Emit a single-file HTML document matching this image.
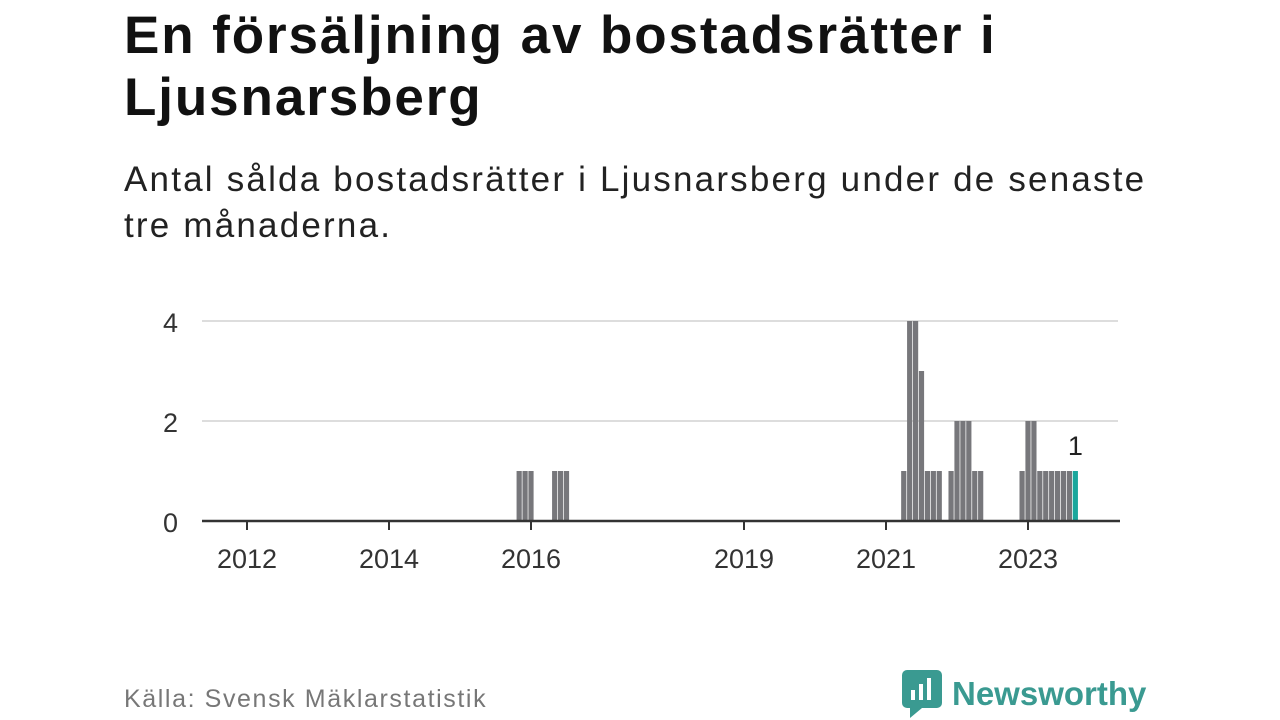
<!DOCTYPE html>
<html><head><meta charset="utf-8"><style>
body{margin:0;width:1280px;height:720px;background:#fff;font-family:"Liberation Sans","DejaVu Sans",sans-serif;overflow:hidden;position:relative}
h1{position:absolute;left:124px;top:5px;margin:0;font-size:53px;line-height:62px;font-weight:bold;color:#111;width:1150px;letter-spacing:1.9px}
.sub{position:absolute;left:124px;top:157px;font-size:35px;line-height:46px;color:#222;width:1150px;letter-spacing:2.2px}
.src{position:absolute;left:124px;top:685px;font-size:25px;color:#777;letter-spacing:1.6px}
.logo{position:absolute;left:902px;top:670px;display:flex;align-items:center;gap:10px;color:#3a9a91;font-size:33px;font-weight:bold}
</style></head><body>
<h1>En försäljning av bostadsrätter i<br>Ljusnarsberg</h1>
<div class="sub">Antal sålda bostadsrätter i Ljusnarsberg under de senaste<br>tre månaderna.</div>
<svg id="chart" width="1280" height="720" style="position:absolute;left:0;top:0"></svg>
<div class="src">Källa: Svensk Mäklarstatistik</div>
<div class="logo"><svg width="40" height="48" viewBox="0 0 40 48"><rect x="0" y="0" width="40" height="38" rx="5" fill="#3a9a91"/><polygon points="8,38 20,38 8,48" fill="#3a9a91"/><rect x="9" y="20" width="4" height="10" fill="#fff"/><rect x="17" y="14" width="4" height="16" fill="#fff"/><rect x="25" y="8" width="4" height="22" fill="#fff"/></svg><span>Newsworthy</span></div>
<script>
const months=["2015-11","2015-12","2016-01","2016-05","2016-06","2016-07","2021-04","2021-05","2021-06","2021-07","2021-08","2021-09","2021-10","2021-12","2022-01","2022-02","2022-03","2022-04","2022-05","2022-12","2023-01","2023-02","2023-03","2023-04","2023-05","2023-06","2023-07","2023-08","2023-09"];
const values=[1,1,1,1,1,1,1,4,4,3,1,1,1,1,2,2,2,1,1,1,2,2,1,1,1,1,1,1,1];
const yTicks=[0,2,4];
const xTickYears=[2012,2014,2016,2019,2021,2023];
const NS="http://www.w3.org/2000/svg";
const svg=document.getElementById('chart');
const x0=247,pitch=71/12,y0=521,unit=50;
function mIdx(s){const [y,m]=s.split('-').map(Number);return (y-2012)*12+(m-1);}
function xs(m){return x0+m*pitch;}
function ys(v){return y0-v*unit;}
function add(tag,attrs){const e=document.createElementNS(NS,tag);for(const k in attrs)e.setAttribute(k,attrs[k]);svg.appendChild(e);return e;}
yTicks.forEach(t=>{
 if(t>0){const g=add('line',{x1:202,x2:1118,y1:ys(t),y2:ys(t),stroke:'#ddd','stroke-width':2});
 
 }
 const l=add('text',{x:178,y:ys(t)+11,'text-anchor':'end','font-size':27,fill:'#333'});l.textContent=t;
 
 
});
const last=months.length-1;
months.forEach((m,i)=>{
 const c=xs(mIdx(m));
 const r=add('rect',{x:c-2.6,y:ys(values[i]),width:5.2,height:values[i]*unit,fill:i===last?'#1aa79c':'#77777b'});
 
 
});
const lb=add('text',{x:xs(mIdx(months[last])),y:ys(values[last])-16,'text-anchor':'middle','font-size':27,fill:'#222'});
lb.textContent=values[last];


const ax=add('line',{x1:202,x2:1120,y1:y0,y2:y0,stroke:'#333','stroke-width':2.5});


xTickYears.forEach(yr=>{
 const x=xs((yr-2012)*12);
 const t=add('line',{x1:x,x2:x,y1:y0,y2:y0+9,stroke:'#333','stroke-width':2});
 
 
 const l=add('text',{x:x,y:568,'text-anchor':'middle','font-size':27,fill:'#333'});l.textContent=yr;
 
 
});
</script>
</body></html>
